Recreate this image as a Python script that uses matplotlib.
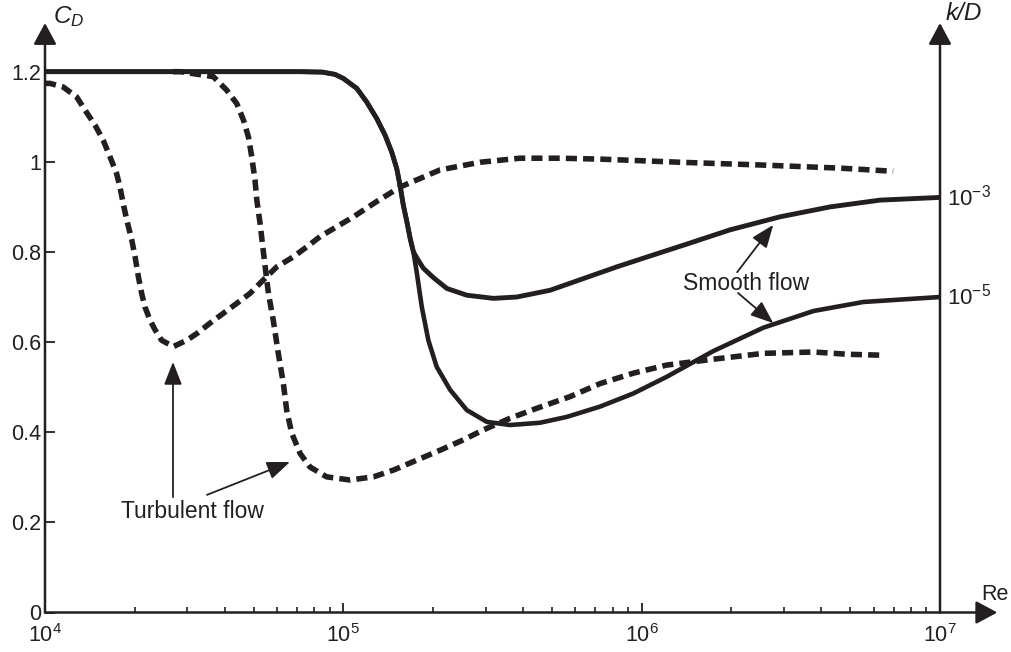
import matplotlib.pyplot as plt
import numpy as np

plt.rcParams['font.family'] = ['Liberation Sans', 'DejaVu Sans']
plt.rcParams['mathtext.fontset'] = 'custom'
plt.rcParams['mathtext.rm'] = 'Liberation Sans'
plt.rcParams['mathtext.it'] = 'Liberation Sans:italic'

INK = '#231f20'

# log10(Re) and C_D
# solid curves share the first part, then split
solid_log = [4.000, 4.855, 4.930, 4.972, 5.000, 5.045, 5.078, 5.112, 5.140, 5.162, 5.179,
             5.190, 5.201, 5.213, 5.224, 5.235]
solid_cd = [1.2, 1.2, 1.199, 1.194, 1.185, 1.163, 1.133, 1.096, 1.059, 1.022, 0.985,
            0.948, 0.904, 0.867, 0.830, 0.800]

upper_log = [5.248, 5.268, 5.302, 5.347, 5.414, 5.503, 5.581, 5.693, 5.805, 5.917,
             6.028, 6.140, 6.296, 6.464, 6.632, 6.799, 7.000]
upper_cd = [0.785, 0.764, 0.743, 0.719, 0.704, 0.697, 0.700, 0.715, 0.741, 0.767,
            0.791, 0.815, 0.849, 0.878, 0.900, 0.915, 0.921]

lower_log = [5.246, 5.263, 5.285, 5.313, 5.358, 5.414, 5.481, 5.559, 5.659, 5.749,
             5.861, 5.972, 6.084, 6.240, 6.408, 6.576, 6.743, 7.000]
lower_cd = [0.755, 0.678, 0.604, 0.545, 0.494, 0.449, 0.423, 0.416, 0.421, 0.434,
            0.457, 0.486, 0.523, 0.58, 0.632, 0.669, 0.689, 0.700]

# dashed (rough cylinders)
dash1_log = [4.000, 4.017, 4.061, 4.106, 4.134, 4.168, 4.195, 4.218, 4.240, 4.251,
             4.262, 4.274, 4.291, 4.302, 4.313, 4.324, 4.335, 4.352, 4.369, 4.391,
             4.430, 4.475, 4.509, 4.553, 4.598, 4.643, 4.687, 4.732, 4.777, 4.832,
             4.877, 4.922, 4.978, 5.034, 5.112, 5.190, 5.324, 5.458, 5.592, 5.726,
             5.861, 6.129, 6.397, 6.665, 6.843]
dash1_cd = [1.174, 1.174, 1.166, 1.144, 1.115, 1.081, 1.048, 1.011, 0.974, 0.945,
            0.908, 0.871, 0.826, 0.789, 0.745, 0.708, 0.678, 0.649, 0.627, 0.604,
            0.590, 0.604, 0.619, 0.642, 0.664, 0.686, 0.708, 0.738, 0.767, 0.789,
            0.811, 0.834, 0.856, 0.878, 0.912, 0.944, 0.982, 0.999, 1.008, 1.008,
            1.006, 0.999, 0.993, 0.986, 0.979]

dash2_log = [4.429, 4.453, 4.564, 4.609, 4.643, 4.665, 4.682, 4.693, 4.704, 4.710,
             4.721, 4.730, 4.738, 4.749, 4.765, 4.782, 4.799, 4.810, 4.827, 4.855,
             4.888, 4.944, 5.022, 5.101, 5.168, 5.246, 5.324, 5.402, 5.469, 5.559,
             5.648, 5.760, 5.861, 5.972, 6.084, 6.240, 6.408, 6.576, 6.689, 6.799]
dash2_cd = [1.2, 1.2, 1.189, 1.159, 1.129, 1.093, 1.055, 1.011, 0.959, 0.915,
            0.863, 0.811, 0.767, 0.708, 0.649, 0.575, 0.508, 0.449, 0.398, 0.353,
            0.323, 0.301, 0.294, 0.301, 0.316, 0.338, 0.360, 0.383, 0.405, 0.431,
            0.453, 0.479, 0.508, 0.531, 0.549, 0.562, 0.575, 0.578, 0.573, 0.571]

yticks = [0, 0.2, 0.4, 0.6, 0.8, 1, 1.2]
ytick_labels = ['0', '0.2', '0.4', '0.6', '0.8', '1', '1.2']
xticks = [1e4, 1e5, 1e6, 1e7]
xtick_labels = [r'$10^{4}$', r'$10^{5}$', r'$10^{6}$', r'$10^{7}$']
kd_labels = [r'$10^{-3}$', r'$10^{-5}$']

fig = plt.figure(figsize=(10.11, 6.52), dpi=100)
ax = fig.add_axes([45 / 1011, 39.5 / 652, 895 / 1011, 589.5 / 652])
ax.set_xscale('log')
ax.set_xlim(1e4, 1e7)
ax.set_ylim(0, 1.308)
for s in ax.spines.values():
    s.set_visible(False)

# curves
up_x = 10 ** np.array(solid_log + upper_log)
up_y = solid_cd + upper_cd
lo_x = 10 ** np.array(solid_log + lower_log)
lo_y = solid_cd + lower_cd
ax.plot(up_x, up_y, color=INK, lw=3.5, solid_capstyle='butt', solid_joinstyle='round')
ax.plot(lo_x, lo_y, color=INK, lw=3.3, solid_capstyle='butt', solid_joinstyle='round')
ax.plot(10 ** np.array(dash1_log), dash1_cd, color=INK, lw=4, dashes=(2.0, 1.1),
        dash_capstyle='butt', dash_joinstyle='round')
ax.plot(10 ** np.array(dash2_log), dash2_cd, color=INK, lw=4, dashes=(2.0, 1.1),
        dash_capstyle='butt', dash_joinstyle='round')

# ticks
ax.set_yticks(yticks)
ax.set_yticklabels(ytick_labels)
ax.set_xticks(xticks)
ax.set_xticklabels(xtick_labels)
ax.tick_params(axis='both', which='major', direction='in', length=7, width=1.3,
               colors=INK, labelsize=15.5)
ax.tick_params(axis='x', which='minor', direction='in', length=4, width=1.2, colors=INK)
ax.tick_params(axis='y', pad=3)
ax.tick_params(axis='x', pad=8)

# axis arrows
big = dict(arrowstyle='-|>,head_length=1.3,head_width=0.7', lw=1.8, color=INK,
           mutation_scale=10, shrinkA=0, shrinkB=0)
ax.annotate('', xy=(0, 1), xytext=(0, 0), xycoords='axes fraction', arrowprops=big,
            annotation_clip=False)
ax.annotate('', xy=(1, 1), xytext=(1, 0), xycoords='axes fraction', arrowprops=big,
            annotation_clip=False)
ax.annotate('', xy=(1.064, 0), xytext=(0, 0), xycoords='axes fraction', arrowprops=big,
            annotation_clip=False)

# axis labels
fig.text(53 / 1011, 1 - 17 / 652, r'$C_D$', fontsize=17.5, color=INK, va='center')
fig.text(946 / 1011, 1 - 14 / 652, 'k/D', fontsize=17.5, style='italic', color=INK,
         va='center')
fig.text(981 / 1011, 1 - 595 / 652, 'Re', fontsize=15.5, color=INK, va='center')

# k/D values at the end of the smooth curves
for lab, yv in zip(kd_labels, [upper_cd[-1], lower_cd[-1]]):
    ax.text(1.008, yv, lab, transform=ax.get_yaxis_transform(), fontsize=16,
            color=INK, va='center', ha='left')

# annotations
small = dict(arrowstyle='-|>,head_length=1.4,head_width=0.55', lw=1.3, color=INK,
             mutation_scale=10, shrinkA=0, shrinkB=0)
ax.annotate('', xy=(10 ** 4.429, 0.556), xytext=(10 ** 4.429, 0.256), arrowprops=small)
ax.annotate('', xy=(10 ** 4.821, 0.334), xytext=(10 ** 4.543, 0.261), arrowprops=small)
ax.text(10 ** 4.493, 0.223, 'Turbulent flow', fontsize=16.5, color=INK,
        ha='center', va='center')

ax.annotate('', xy=(10 ** 6.441, 0.860), xytext=(10 ** 6.320, 0.755), arrowprops=small)
ax.annotate('', xy=(10 ** 6.441, 0.642), xytext=(10 ** 6.323, 0.709), arrowprops=small)
ax.text(10 ** 6.350, 0.731, 'Smooth flow', fontsize=16.5, color=INK,
        ha='center', va='center')

fig.savefig('out.png', dpi=100)
